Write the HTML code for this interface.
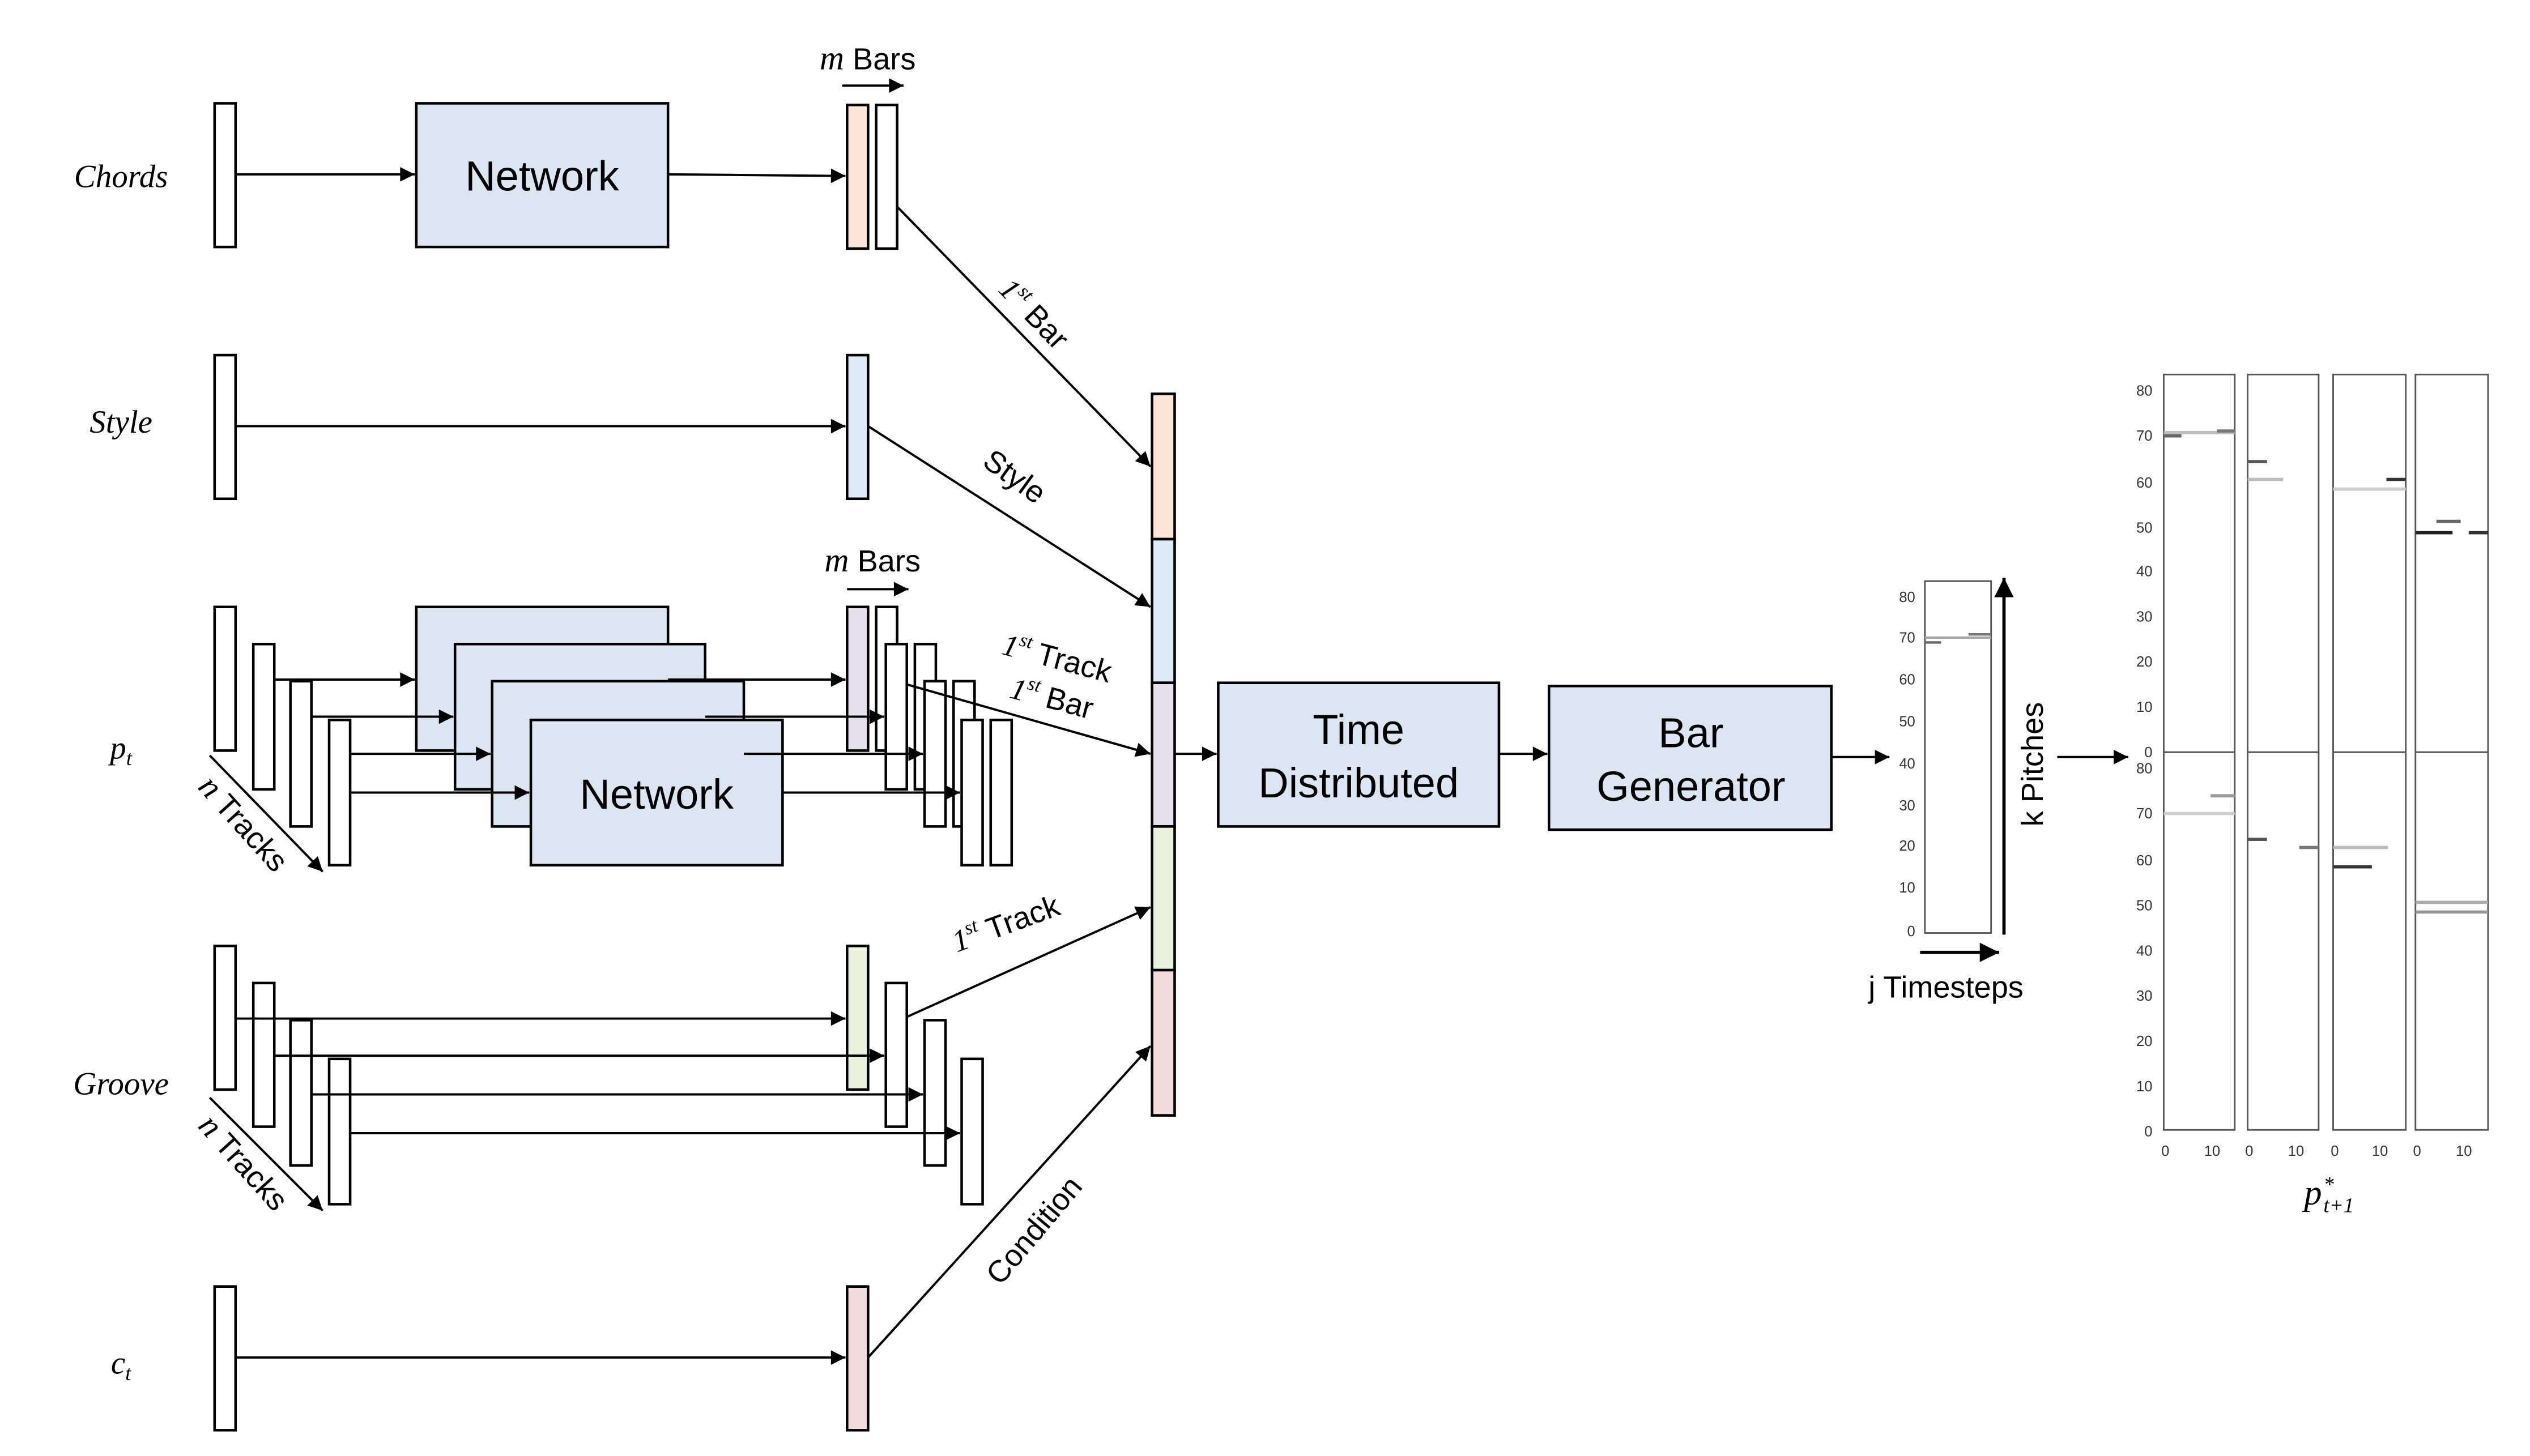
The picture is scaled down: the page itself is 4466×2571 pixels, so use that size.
<!DOCTYPE html>
<html><head><meta charset="utf-8"><style>html,body{margin:0;padding:0;background:#fff}svg{display:block}</style></head>
<body>
<svg width="4466" height="2571" viewBox="0 0 1568 902" preserveAspectRatio="none" xmlns="http://www.w3.org/2000/svg" font-family="Liberation Sans, sans-serif">
<defs>
<marker id="a" viewBox="0 0 10 10" refX="10" refY="5" markerWidth="11" markerHeight="9" orient="auto" markerUnits="userSpaceOnUse"><path d="M0,0 L10,5 L0,10 z" fill="#000"/></marker>
<marker id="b" viewBox="0 0 10 10" refX="10" refY="5" markerWidth="13" markerHeight="12" orient="auto" markerUnits="userSpaceOnUse"><path d="M0,0 L10,5 L0,10 z" fill="#000"/></marker>
</defs>
<g stroke="#000" stroke-width="1.6" fill="#fff">
<rect x="133" y="64" width="13" height="89"/>
<rect x="258" y="64" width="156" height="89" fill="#dce6f2"/>
<rect x="525" y="65" width="13" height="89" fill="#fbe5d6"/>
<rect x="543" y="65" width="13" height="89"/>
<rect x="133" y="220" width="13" height="89"/>
<rect x="525" y="220" width="13" height="89" fill="#deebf7"/>
<rect x="133" y="376" width="13" height="89"/>
<rect x="157" y="399" width="13" height="90"/>
<rect x="180" y="422" width="13" height="90"/>
<rect x="204" y="446" width="13" height="90"/>
<rect x="258" y="376" width="156" height="89" fill="#dce6f2"/>
<rect x="282" y="399" width="155" height="90" fill="#dce6f2"/>
<rect x="305" y="422" width="156" height="90" fill="#dce6f2"/>
<rect x="329" y="446" width="156" height="90" fill="#dce6f2"/>
<rect x="525" y="376" width="13" height="89" fill="#e6e0ec"/>
<rect x="543" y="376" width="13" height="89"/>
<rect x="549" y="399" width="13" height="90"/>
<rect x="567" y="399" width="13" height="90"/>
<rect x="573" y="422" width="13" height="90"/>
<rect x="591" y="422" width="13" height="90"/>
<rect x="596" y="446" width="13" height="90"/>
<rect x="614" y="446" width="13" height="90"/>
<rect x="133" y="586" width="13" height="89"/>
<rect x="157" y="609" width="13" height="89"/>
<rect x="180" y="632" width="13" height="90"/>
<rect x="204" y="656" width="13" height="90"/>
<rect x="525" y="586" width="13" height="89" fill="#ebf1de"/>
<rect x="549" y="609" width="13" height="89"/>
<rect x="573" y="632" width="13" height="90"/>
<rect x="596" y="656" width="13" height="90"/>
<rect x="133" y="797" width="13" height="89"/>
<rect x="525" y="797" width="13" height="89" fill="#f2dcdb"/>
<rect x="714" y="244" width="14" height="90" fill="#fbe5d6"/>
<rect x="714" y="334" width="14" height="89" fill="#deebf7"/>
<rect x="714" y="423" width="14" height="89" fill="#e6e0ec"/>
<rect x="714" y="512" width="14" height="89" fill="#ebf1de"/>
<rect x="714" y="601" width="14" height="90" fill="#f2dcdb"/>
<rect x="755" y="423" width="174" height="89" fill="#dce6f2"/>
<rect x="960" y="425" width="175" height="89" fill="#dce6f2"/>
</g>
<g stroke="#000" stroke-width="1.4" fill="none" marker-end="url(#a)">
<line x1="146" y1="108" x2="257" y2="108"/>
<line x1="414" y1="108" x2="524" y2="109"/>
<line x1="522" y1="53" x2="560" y2="53"/>
<line x1="556" y1="128" x2="713" y2="289"/>
<line x1="146" y1="264" x2="524" y2="264"/>
<line x1="538" y1="264" x2="713" y2="376"/>
<line x1="525" y1="365" x2="563" y2="365"/>
<line x1="170" y1="421" x2="257" y2="421"/>
<line x1="193" y1="444" x2="281" y2="444"/>
<line x1="217" y1="467" x2="304" y2="467"/>
<line x1="217" y1="491" x2="328" y2="491"/>
<line x1="414" y1="421" x2="524" y2="421"/>
<line x1="437" y1="444" x2="548" y2="444"/>
<line x1="461" y1="467" x2="572" y2="467"/>
<line x1="485" y1="491" x2="595" y2="491"/>
<line x1="562" y1="424" x2="713" y2="467"/>
<line x1="130" y1="468" x2="200" y2="540"/>
<line x1="146" y1="631" x2="524" y2="631"/>
<line x1="170" y1="654" x2="548" y2="654"/>
<line x1="193" y1="678" x2="572" y2="678"/>
<line x1="217" y1="702" x2="595" y2="702"/>
<line x1="562" y1="630" x2="713" y2="562"/>
<line x1="130" y1="680" x2="200" y2="750"/>
<line x1="146" y1="841" x2="524" y2="841"/>
<line x1="538" y1="841" x2="713" y2="648"/>
<line x1="728" y1="467" x2="754" y2="467"/>
<line x1="929" y1="467" x2="959" y2="467"/>
<line x1="1135" y1="469" x2="1171" y2="469"/>
<line x1="1275" y1="469" x2="1319" y2="469"/>
</g>
<g stroke="#000" stroke-width="2" fill="none" marker-end="url(#b)">
<line x1="1242" y1="579" x2="1242" y2="358"/>
<line x1="1190" y1="590" x2="1239" y2="590"/>
</g>
<g font-family="Liberation Serif, serif" font-style="italic" font-size="20" text-anchor="middle">
<text x="75" y="116">Chords</text>
<text x="75" y="268">Style</text>
<text x="75" y="470">p<tspan font-size="13" dy="4">t</tspan></text>
<text x="75" y="678">Groove</text>
<text x="75" y="851">c<tspan font-size="13" dy="4">t</tspan></text>
</g>
<g font-size="26" text-anchor="middle">
<text x="336" y="118">Network</text>
<text x="407" y="501">Network</text>
<text x="842" y="461">Time</text>
<text x="842" y="494">Distributed</text>
<text x="1048" y="463">Bar</text>
<text x="1048" y="496">Generator</text>
</g>
<g font-size="19">
<text x="508" y="43"><tspan font-family="Liberation Serif, serif" font-style="italic" font-size="21">m</tspan> Bars</text>
<text x="511" y="354"><tspan font-family="Liberation Serif, serif" font-style="italic" font-size="21">m</tspan> Bars</text>
<text transform="translate(618,180) rotate(46)"><tspan font-family="Liberation Serif, serif" font-style="italic">1<tspan font-size="12" dy="-8">st</tspan></tspan><tspan dy="8"> Bar</tspan></text>
<text transform="translate(608,288) rotate(36)">Style</text>
<text transform="translate(620,405) rotate(15)"><tspan font-family="Liberation Serif, serif" font-style="italic">1<tspan font-size="12" dy="-8">st</tspan></tspan><tspan dy="8"> Track</tspan></text>
<text transform="translate(625,432) rotate(15)"><tspan font-family="Liberation Serif, serif" font-style="italic">1<tspan font-size="12" dy="-8">st</tspan></tspan><tspan dy="8"> Bar</tspan></text>
<text transform="translate(593,590) rotate(-20)"><tspan font-family="Liberation Serif, serif" font-style="italic">1<tspan font-size="12" dy="-8">st</tspan></tspan><tspan dy="8"> Track</tspan></text>
<text transform="translate(620,797) rotate(-50)">Condition</text>
<text transform="translate(122,488) rotate(48)"><tspan font-family="Liberation Serif, serif" font-style="italic" font-size="21">n</tspan> Tracks</text>
<text transform="translate(122,698) rotate(48)"><tspan font-family="Liberation Serif, serif" font-style="italic" font-size="21">n</tspan> Tracks</text>
<text x="1158" y="618">j Timesteps</text>
<text transform="translate(1266,512) rotate(-90)">k Pitches</text>
</g>
<g stroke="#555" stroke-width="1" fill="#fff">
<rect x="1193" y="360" width="41" height="218"/>
</g>
<g stroke="#999" stroke-width="1.5">
<line x1="1193" y1="395" x2="1234" y2="395" stroke="#aaa"/>
<line x1="1193" y1="398" x2="1203" y2="398" stroke="#666"/>
<line x1="1220" y1="393" x2="1234" y2="393" stroke="#777"/>
</g>
<g font-size="9" fill="#333" text-anchor="end">
<text x="1187" y="373">80</text><text x="1187" y="398">70</text><text x="1187" y="424">60</text><text x="1187" y="450">50</text><text x="1187" y="476">40</text><text x="1187" y="502">30</text><text x="1187" y="527">20</text><text x="1187" y="553">10</text><text x="1187" y="580">0</text>
</g>
<g stroke="#555" stroke-width="1" fill="#fff">
<rect x="1341" y="232" width="44" height="234"/><rect x="1393" y="232" width="44" height="234"/><rect x="1446" y="232" width="45" height="234"/><rect x="1497" y="232" width="45" height="234"/>
<rect x="1341" y="466" width="44" height="234"/><rect x="1393" y="466" width="44" height="234"/><rect x="1446" y="466" width="45" height="234"/><rect x="1497" y="466" width="45" height="234"/>
</g>
<g stroke-width="2">
<line x1="1341" y1="268" x2="1385" y2="268" stroke="#bbb"/>
<line x1="1341" y1="270" x2="1352" y2="270" stroke="#666"/>
<line x1="1374" y1="267" x2="1385" y2="267" stroke="#777"/>
<line x1="1393" y1="286" x2="1405" y2="286" stroke="#555"/>
<line x1="1393" y1="297" x2="1415" y2="297" stroke="#bbb"/>
<line x1="1479" y1="297" x2="1491" y2="297" stroke="#333"/>
<line x1="1446" y1="303" x2="1491" y2="303" stroke="#ccc"/>
<line x1="1497" y1="330" x2="1520" y2="330" stroke="#222"/>
<line x1="1530" y1="330" x2="1542" y2="330" stroke="#333"/>
<line x1="1510" y1="323" x2="1525" y2="323" stroke="#666"/>
<line x1="1341" y1="504" x2="1385" y2="504" stroke="#ccc"/>
<line x1="1370" y1="493" x2="1385" y2="493" stroke="#999"/>
<line x1="1393" y1="520" x2="1405" y2="520" stroke="#555"/>
<line x1="1425" y1="525" x2="1437" y2="525" stroke="#777"/>
<line x1="1446" y1="537" x2="1470" y2="537" stroke="#333"/>
<line x1="1446" y1="525" x2="1480" y2="525" stroke="#bbb"/>
<line x1="1497" y1="559" x2="1542" y2="559" stroke="#aaa"/>
<line x1="1497" y1="565" x2="1542" y2="565" stroke="#999"/>
</g>
<g font-size="9" fill="#333" text-anchor="end">
<text x="1334" y="245">80</text><text x="1334" y="273">70</text><text x="1334" y="302">60</text><text x="1334" y="330">50</text><text x="1334" y="357">40</text><text x="1334" y="385">30</text><text x="1334" y="413">20</text><text x="1334" y="441">10</text><text x="1334" y="469">0</text>
<text x="1334" y="479">80</text><text x="1334" y="507">70</text><text x="1334" y="536">60</text><text x="1334" y="564">50</text><text x="1334" y="592">40</text><text x="1334" y="620">30</text><text x="1334" y="648">20</text><text x="1334" y="676">10</text><text x="1334" y="704">0</text>
</g>
<g font-size="9" fill="#333" text-anchor="middle">
<text x="1342" y="716">0</text><text x="1371" y="716">10</text>
<text x="1394" y="716">0</text><text x="1423" y="716">10</text>
<text x="1447" y="716">0</text><text x="1475" y="716">10</text>
<text x="1498" y="716">0</text><text x="1527" y="716">10</text>
</g>
<g font-family="Liberation Serif, serif" font-style="italic">
<text x="1428" y="746" font-size="22">p</text>
<text x="1440" y="738" font-size="13">*</text>
<text x="1440" y="751" font-size="13">t+1</text>
</g>
</svg>
</body></html>
